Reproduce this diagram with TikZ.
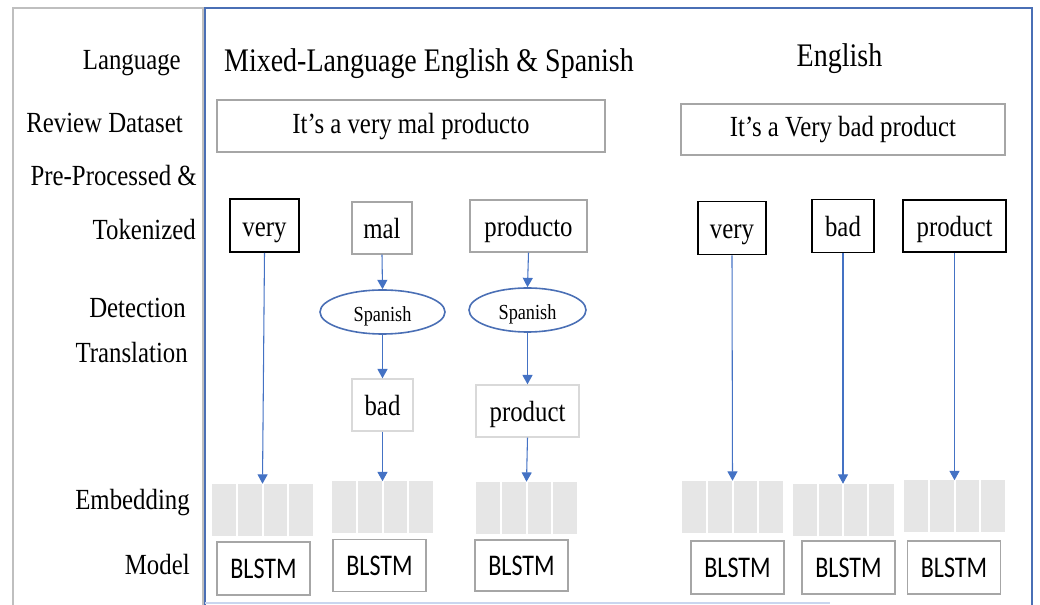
\documentclass[tikz,border=0pt]{standalone}
\usepackage{fontspec}
\setmainfont{Liberation Serif}[FakeStretch=0.85]
\newfontfamily\blstmfont{Carlito}[FakeStretch=0.8]
\usetikzlibrary{arrows.meta,calc,shapes.geometric}
\definecolor{frameblue}{HTML}{4A6FB5}
\definecolor{arrowblue}{HTML}{4472C4}
\definecolor{boxgray}{HTML}{A6A6A6}
\definecolor{paleboxgray}{HTML}{D9D9D9}
\definecolor{framegray}{HTML}{BFBFBF}
\definecolor{embgray}{HTML}{E6E6E6}
\definecolor{paleblue}{HTML}{C9D6EF}

\begin{document}
\begin{tikzpicture}[x=0.75pt,y=-0.75pt,
  lbl/.style={font=\fontsize{21.9}{26}\selectfont, anchor=base east, inner sep=0},
  head/.style={font=\fontsize{24.7}{29}\selectfont, anchor=base, inner sep=0},
  sz/.style 2 args={minimum width=#1*0.75pt, minimum height=#2*0.75pt, inner sep=0},
  txt/.style={font=\fontsize{21.9}{26}\selectfont, text height=16.5pt, text depth=0pt},
  tokbox/.style={txt, draw=black, line width=1.2pt},
  graybox/.style={txt, draw=boxgray, line width=1pt},
  palebox/.style={txt, draw=paleboxgray, line width=1pt},
  reviewbox/.style={draw=boxgray, line width=1pt, font=\fontsize{21.9}{26}\selectfont, text height=11pt, text depth=0pt},
  langnode/.style={ellipse, draw=frameblue, line width=1.2pt, font=\fontsize{16.1}{19}\selectfont, text height=15pt, text depth=0pt},
  embnode/.style={fill=embgray, inner sep=0, sz={101}{52}},
  blstmbox/.style={draw=boxgray, line width=1pt, font=\blstmfont\fontsize{22.5}{26}\selectfont, sz={93}{53}},
  flow/.style={draw=arrowblue, line width=0.8pt, -{Triangle[width=7.5pt,length=7pt]}}
]
\useasboundingbox (0,0) rectangle (1040,605);

% frames
\draw[framegray, line width=1.5pt] (13,605) -- (13,8) -- (203,8) -- (203,605);
\draw[frameblue, line width=1.5pt] (205,605) -- (205,8) -- (1032,8) -- (1032,605);
\draw[paleblue, line width=1.5pt] (205,603) -- (830,603);

% row labels
\node[lbl] (lLang) at (181,70) {Language};
\node[lbl] (lRev) at (183,133) {Review Dataset};
\node[lbl] (lPre) at (197,186) {Pre-Processed \&};
\node[lbl] (lTok) at (196,240) {Tokenized};
\node[lbl] (lDet) at (186,318) {Detection};
\node[lbl] (lTra) at (188,363) {Translation};
\node[lbl] (lEmb) at (190,510) {Embedding};
\node[lbl] (lMod) at (190,575) {Model};

% column headers
\node[head] (hMix) at (429,72) {Mixed-Language English \& Spanish};
\node[head] (hEng) at (839.5,67) {English};

% review sentences
\node[reviewbox, sz={388}{52}] (rev1) at (411,126) {It’s a very mal producto};
\node[reviewbox, sz={324}{51}] (rev2) at (843,129.5) {It’s a Very bad product};

% mixed-language column
\node[tokbox, sz={69}{53}] (very1) at (264.5,225.5) {very};
\node[graybox, sz={60}{52}] (mal) at (382,228) {mal};
\node[graybox, sz={117}{52}] (producto) at (528.5,226) {producto};
\node[langnode, sz={125}{44}] (sp1) at (382.5,312) {Spanish};
\node[langnode, sz={117}{44}] (sp2) at (527.5,310) {Spanish};
\node[palebox, sz={61}{52}] (bad1) at (382.5,405) {bad};
\node[palebox, sz={103}{52}] (product1) at (527.5,411) {product};

% english column
\node[tokbox, sz={68}{53}] (very2) at (732,228) {very};
\node[tokbox, sz={62}{53}] (bad2) at (843,226) {bad};
\node[tokbox, sz={103}{52}] (product2) at (954.5,226) {product};

% embeddings
\node[embnode] (emb1) at (262.5,510) {};
\node[embnode] (emb2) at (382.5,507.5) {};
\node[embnode] (emb3) at (526.5,508) {};
\node[embnode] (emb4) at (732.5,507) {};
\node[embnode] (emb5) at (843,510) {};
\node[embnode] (emb6) at (954.5,506.5) {};
\foreach \e in {emb1,emb2,emb3,emb4,emb5,emb6}
  \foreach \i in {1,2,3}
    \draw[white, line width=1.5pt]
      ($(\e.north west)!\i/4!(\e.north east)$) -- ($(\e.south west)!\i/4!(\e.south east)$);

% models
\node[blstmbox] (m1) at (263.5,568.5) {BLSTM};
\node[blstmbox, sz={93}{52}] (m2) at (379.5,565.5) {BLSTM};
\node[blstmbox, sz={93}{51}] (m3) at (521.5,565.5) {BLSTM};
\node[blstmbox] (m4) at (737.5,567.5) {BLSTM};
\node[blstmbox] (m5) at (848.5,567.5) {BLSTM};
\node[blstmbox, sz={93}{53}] (m6) at (954,567.5) {BLSTM};

% connectors
\draw[flow] (very1.south) -- (emb1.north);
\draw[flow] (mal.south) -- (sp1.north);
\draw[flow] (sp1.south) -- (bad1.north);
\draw[flow] (bad1.south) -- (emb2.north);
\draw[flow] (producto.south) -- (sp2.north);
\draw[flow] (sp2.south) -- (product1.north);
\draw[flow] (product1.south) -- (emb3.north);
\draw[flow] (very2.south) -- (emb4.north);
\draw[flow] (bad2.south) -- (emb5.north);
\draw[flow] (product2.south) -- (emb6.north);
\end{tikzpicture}
\end{document}
